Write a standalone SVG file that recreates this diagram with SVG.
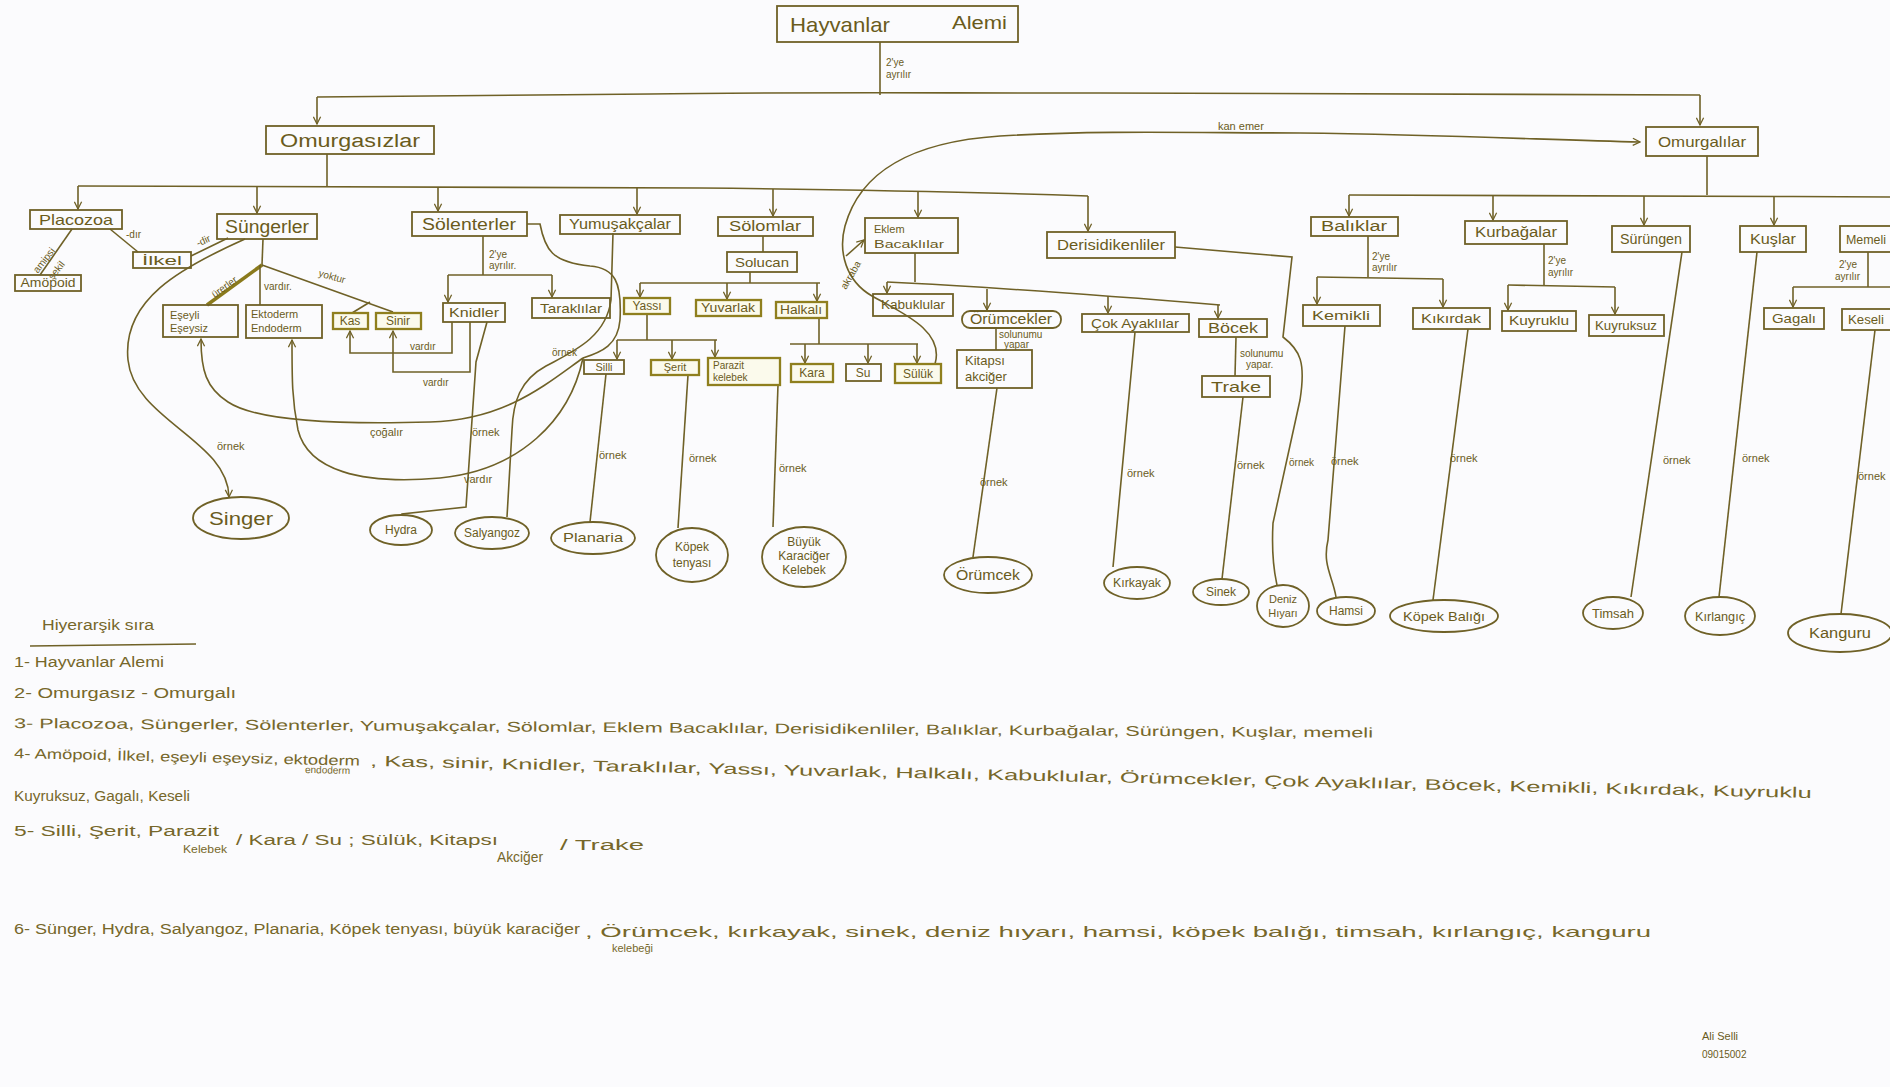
<svg xmlns="http://www.w3.org/2000/svg" width="1890" height="1087" viewBox="0 0 1890 1087">
  <defs>
    <marker id="ah" viewBox="0 0 10 10" refX="9" refY="5" markerWidth="9" markerHeight="9" markerUnits="userSpaceOnUse" orient="auto">
      <path d="M1,1 L9,5 L1,9" fill="none" stroke="#6f6127" stroke-width="1.4"/>
    </marker>
  </defs>
  <style>
    .box{fill:none;stroke:#6f6127;stroke-width:1.8}
    .hl{fill:#fbfaec;stroke:#8f7f1e;stroke-width:2.3}
    .ov{fill:none;stroke:#6f6127;stroke-width:1.8}
    .ln{fill:none;stroke:#6f6127;stroke-width:1.6}
    .ar{fill:none;stroke:#6f6127;stroke-width:1.6;marker-end:url(#ah)}
    .thick{fill:none;stroke:#8a7a1c;stroke-width:3.6}
    text{font-family:"Liberation Sans",Arial,sans-serif;fill:#6a5b1c}
    .t{font-size:13px;text-anchor:middle}
    .ts{font-size:11px}
    .lb{font-size:10px}
    .li{font-size:14px;fill:#76672a}
    .lw{font-size:15px;fill:#76672a}
  </style>
  <rect width="1890" height="1087" fill="#fbfbfd"/>

  <!-- connectors -->
  <g id="connectors">
    <!-- kingdom split -->
    <path class="ln" d="M880,42 L880,95"/>
    <path class="ln" d="M317,97 C450,96 560,95 650,94 C760,92 900,93 1100,93 C1400,94 1600,95 1700,95"/>
    <path class="ar" d="M317,97 L317,124"/>
    <path class="ar" d="M1700,95 L1700,125"/>

    <!-- invertebrate phyla -->
    <path class="ln" d="M327,154 L327,186"/>
    <path class="ln" d="M78,186 C300,186 500,186 700,188 C900,190 1000,193 1088,196"/>
    <path class="ar" d="M78,186 L78,209"/>
    <path class="ar" d="M257,186 L257,213"/>
    <path class="ar" d="M438,187 L438,211"/>
    <path class="ar" d="M637,188 L637,214"/>
    <path class="ar" d="M773,189 L773,216"/>
    <path class="ar" d="M918,192 L918,217"/>
    <path class="ar" d="M1088,196 L1088,231"/>

    <!-- vertebrate classes -->
    <path class="ln" d="M1707,156 L1707,195"/>
    <path class="ln" d="M1349,195 C1500,195 1700,196 1890,197"/>
    <path class="ar" d="M1349,195 L1349,216"/>
    <path class="ar" d="M1493,195 L1493,220"/>
    <path class="ar" d="M1644,196 L1644,225"/>
    <path class="ar" d="M1774,196 L1774,225"/>

    <!-- Placozoa -->
    <path class="ln" d="M72,229 L40,275"/>
    <path class="ln" d="M110,229 L138,252"/>
    <path class="ln" d="M228,238 L191,256"/>

    <!-- Süngerler -->
    <path class="ln" d="M263,239 L262,265"/>
    <path class="thick" d="M262,265 L207,305"/>
    <path class="ln" d="M260,265 L260,305"/>
    <path class="ln" d="M262,265 L393,312"/>
    <path class="ln" d="M370,302 L352,313"/>
    <path class="ar" d="M245,239 C180,268 122,300 128,360 C134,420 228,440 229,497"/>

    <!-- Sölenterler branches and return curves -->
    <path class="ln" d="M483,236 L483,275"/>
    <path class="ln" d="M448,275 L552,275"/>
    <path class="ar" d="M448,275 L448,302"/>
    <path class="ar" d="M552,275 L552,297"/>
    <path class="ln" d="M527,224 L540,224 C545,250 552,262 590,266 C615,268 622,282 620,320 C618,345 602,352 583,358"/>
    <path class="ar" d="M583,358 C545,385 505,420 430,422 C330,425 255,420 228,402 C206,388 201,370 201,339"/>
    <path class="ar" d="M583,358 C570,420 520,470 440,478 C360,485 308,470 298,430 C292,400 292,380 292,340"/>

    <!-- Knidler -->
    <path class="ar" d="M452,322 L452,353 L350,353 L350,331"/>
    <path class="ar" d="M470,322 L470,372 L393,372 L393,331"/>
    <path class="ln" d="M487,322 L476,362 L466,507 L402,514 L402,516"/>

    <!-- Yumuşakçalar -->
    <path class="ln" d="M613,233 L611,300 C606,338 572,352 546,366 C520,380 513,402 512,430 L507,517"/>

    <!-- Sölomlar -->
    <path class="ln" d="M763,236 L763,252"/>
    <path class="ln" d="M750,272 L750,283"/>
    <path class="ln" d="M640,283 L820,283"/>
    <path class="ar" d="M640,283 L640,297"/>
    <path class="ar" d="M727,283 L727,299"/>
    <path class="ar" d="M817,283 L817,301"/>

    <!-- Yassı -->
    <path class="ln" d="M647,314 L647,340"/>
    <path class="ln" d="M617,340 L717,340"/>
    <path class="ar" d="M617,340 L617,359"/>
    <path class="ar" d="M672,340 L672,359"/>
    <path class="ar" d="M715,340 L715,357"/>

    <!-- Halkalı -->
    <path class="ln" d="M819,318 L819,344"/>
    <path class="ln" d="M790,344 L918,344"/>
    <path class="ar" d="M805,344 L805,363"/>
    <path class="ar" d="M868,344 L868,363"/>
    <path class="ar" d="M917,344 L917,363"/>

    <!-- Sülük : kan emer -->
    <path class="ar" d="M935,364 C945,330 900,312 872,296 C846,281 838,252 845,226 C860,172 910,142 1000,136 C1100,130 1200,133 1300,133 C1450,135 1550,140 1640,142"/>
    <path class="ar" d="M846,256 L864,240"/>

    <!-- Eklem Bacaklılar -->
    <path class="ln" d="M915,253 L915,282"/>
    <path class="ln" d="M887,282 C950,285 1050,291 1220,305"/>
    <path class="ar" d="M887,282 L887,293"/>
    <path class="ar" d="M987,289 L987,310"/>
    <path class="ar" d="M1108,296 L1108,313"/>
    <path class="ar" d="M1218,305 L1218,318"/>
    <path class="ln" d="M996,328 L996,350"/>
    <path class="ln" d="M1236,337 L1235,376"/>

    <!-- examples -->
    <path class="ln" d="M606,374 L590,522"/>
    <path class="ln" d="M688,375 L678,528"/>
    <path class="ln" d="M778,385 L773,527"/>
    <path class="ln" d="M997,388 L973,557"/>
    <path class="ln" d="M1135,332 L1113,567"/>
    <path class="ln" d="M1243,397 L1222,579"/>
    <path class="ln" d="M1175,247 L1292,257 L1283,337 C1300,350 1306,362 1300,400 L1273,523 C1271,560 1275,575 1277,585"/>
    <path class="ln" d="M1345,326 L1328,540 C1322,565 1333,577 1336,597"/>
    <path class="ln" d="M1468,329 L1433,600"/>
    <path class="ln" d="M1682,252 L1631,597"/>
    <path class="ln" d="M1757,252 L1719,597"/>
    <path class="ln" d="M1875,330 L1841,614"/>

    <!-- vertebrate sub-branches -->
    <path class="ln" d="M1368,236 L1368,277"/>
    <path class="ln" d="M1317,277 L1443,279"/>
    <path class="ar" d="M1317,277 L1317,304"/>
    <path class="ar" d="M1443,279 L1443,307"/>
    <path class="ln" d="M1544,244 L1544,286"/>
    <path class="ln" d="M1508,285 L1615,287"/>
    <path class="ar" d="M1508,285 L1508,310"/>
    <path class="ar" d="M1615,287 L1615,314"/>
    <path class="ln" d="M1868,252 L1868,287"/>
    <path class="ln" d="M1793,287 L1890,287"/>
    <path class="ar" d="M1793,287 L1793,307"/>

    <!-- connector labels -->
    <text class="lb" x="886" y="66">2'ye</text>
    <text class="lb" x="886" y="78">ayrılır</text>
    <text class="lb" transform="rotate(-52 52 262)" x="34" y="258">amipsi</text>
    <text class="lb" transform="rotate(-52 60 268)" x="46" y="270">şekil</text>
    <text class="lb" x="126" y="238">-dır</text>
    <text class="lb" transform="rotate(-25 200 246)" x="198" y="246">-dir</text>
    <text class="lb" transform="rotate(-36 226 290)" x="212" y="290">ürerler</text>
    <text class="lb" x="264" y="290">vardır.</text>
    <text class="lb" transform="rotate(16 318 276)" x="318" y="276">yoktur</text>
    <text class="ts" x="217" y="450">örnek</text>
    <text class="lb" x="489" y="258">2'ye</text>
    <text class="lb" x="489" y="269">ayrılır.</text>
    <text class="lb" x="410" y="350">vardır</text>
    <text class="lb" x="423" y="386">vardır</text>
    <text class="ts" x="472" y="436">örnek</text>
    <text class="ts" x="464" y="483">vardır</text>
    <text class="ts" x="370" y="436">çoğalır</text>
    <text class="lb" x="552" y="356">örnek</text>
    <text class="ts" x="599" y="459">örnek</text>
    <text class="ts" x="689" y="462">örnek</text>
    <text class="ts" x="779" y="472">örnek</text>
    <text class="ts" x="1218" y="130">kan  emer</text>
    <text class="lb" transform="rotate(-60 846 290)" x="846" y="290">akraba</text>
    <text class="lb" x="999" y="338">solunumu</text>
    <text class="lb" x="1004" y="348">yapar</text>
    <text class="lb" x="1240" y="357">solunumu</text>
    <text class="lb" x="1246" y="368">yapar.</text>
    <text class="ts" x="980" y="486">örnek</text>
    <text class="ts" x="1127" y="477">örnek</text>
    <text class="ts" x="1237" y="469">örnek</text>
    <text class="lb" x="1289" y="466">örnek</text>
    <text class="ts" x="1331" y="465">örnek</text>
    <text class="ts" x="1450" y="462">örnek</text>
    <text class="ts" x="1663" y="464">örnek</text>
    <text class="ts" x="1742" y="462">örnek</text>
    <text class="ts" x="1858" y="480">örnek</text>
    <text class="lb" x="1372" y="260">2'ye</text>
    <text class="lb" x="1372" y="271">ayrılır</text>
    <text class="lb" x="1548" y="264">2'ye</text>
    <text class="lb" x="1548" y="276">ayrılır</text>
    <text class="lb" x="1839" y="268">2'ye</text>
    <text class="lb" x="1835" y="280">ayrılır</text>
  </g>

  <!-- top levels -->
  <g id="hayvanlar-alemi"><rect class="box" x="777" y="6" width="241" height="36"/><text x="790" y="32" style="font-size:21px" textLength="100" lengthAdjust="spacingAndGlyphs">Hayvanlar</text><text x="952" y="29" style="font-size:18px" textLength="55" lengthAdjust="spacingAndGlyphs">Alemi</text></g>
  <g id="omurgasizlar"><rect class="box" x="266" y="126" width="168" height="28"/><text class="t" x="350" y="147" style="font-size:18px" textLength="140" lengthAdjust="spacingAndGlyphs">Omurgasızlar</text></g>
  <g id="omurgalilar"><rect class="box" x="1646" y="127" width="112" height="29"/><text class="t" x="1702" y="147" style="font-size:15px" textLength="88" lengthAdjust="spacingAndGlyphs">Omurgalılar</text></g>

  <!-- invertebrate phyla -->
  <g id="placozoa"><rect class="box" x="30" y="210" width="92" height="19"/><text class="t" x="76" y="225" style="font-size:15px" textLength="74" lengthAdjust="spacingAndGlyphs">Placozoa</text></g>
  <g id="sungerler"><rect class="box" x="217" y="214" width="100" height="25"/><text class="t" x="267" y="233" style="font-size:18px" textLength="84" lengthAdjust="spacingAndGlyphs">Süngerler</text></g>
  <g id="solenterler"><rect class="box" x="412" y="212" width="115" height="24"/><text class="t" x="469" y="230" style="font-size:16px" textLength="94" lengthAdjust="spacingAndGlyphs">Sölenterler</text></g>
  <g id="yumusakcalar"><rect class="box" x="560" y="215" width="120" height="19"/><text class="t" x="620" y="229" style="font-size:14px" textLength="102" lengthAdjust="spacingAndGlyphs">Yumuşakçalar</text></g>
  <g id="solomlar"><rect class="box" x="718" y="217" width="95" height="19"/><text class="t" x="765" y="231" style="font-size:14px" textLength="72" lengthAdjust="spacingAndGlyphs">Sölomlar</text></g>
  <g id="eklem-bacaklilar"><rect class="box" x="865" y="218" width="93" height="35"/><text class="ts" x="874" y="233">Eklem</text><text class="ts" x="874" y="248" textLength="70" lengthAdjust="spacingAndGlyphs">Bacaklılar</text></g>
  <g id="derisidikenliler"><rect class="box" x="1047" y="232" width="128" height="26"/><text class="t" x="1111" y="250" style="font-size:14px" textLength="108" lengthAdjust="spacingAndGlyphs">Derisidikenliler</text></g>

  <!-- vertebrate classes -->
  <g id="baliklar"><rect class="box" x="1311" y="217" width="87" height="19"/><text class="t" x="1354" y="231" style="font-size:14px" textLength="66" lengthAdjust="spacingAndGlyphs">Balıklar</text></g>
  <g id="kurbagalar"><rect class="box" x="1465" y="221" width="102" height="23"/><text class="t" x="1516" y="237" style="font-size:14px" textLength="82" lengthAdjust="spacingAndGlyphs">Kurbağalar</text></g>
  <g id="surungen"><rect class="box" x="1612" y="226" width="78" height="26"/><text class="t" x="1651" y="244" style="font-size:15px" textLength="62" lengthAdjust="spacingAndGlyphs">Sürüngen</text></g>
  <g id="kuslar"><rect class="box" x="1740" y="226" width="66" height="26"/><text class="t" x="1773" y="244" style="font-size:15px" textLength="46" lengthAdjust="spacingAndGlyphs">Kuşlar</text></g>
  <g id="memeli"><rect class="box" x="1840" y="226" width="80" height="26"/><text x="1846" y="244" style="font-size:12px" textLength="40" lengthAdjust="spacingAndGlyphs">Memeli</text></g>

  <!-- sub-groups -->
  <g id="amopoid"><rect class="box" x="15" y="275" width="66" height="16"/><text class="t" x="48" y="287" style="font-size:12px" textLength="55" lengthAdjust="spacingAndGlyphs">Amöpoid</text></g>
  <g id="ilkel"><rect class="box" x="133" y="252" width="58" height="16"/><text class="t" x="162" y="265" style="font-size:13px" textLength="40" lengthAdjust="spacingAndGlyphs">İlkel</text></g>
  <g id="eseyli-eseysiz"><rect class="box" x="163" y="305" width="75" height="32"/><text class="ts" x="170" y="319">Eşeyli</text><text class="ts" x="170" y="332">Eşeysiz</text></g>
  <g id="ektoderm-endoderm"><rect class="box" x="246" y="305" width="76" height="33"/><text class="ts" x="251" y="318">Ektoderm</text><text class="ts" x="251" y="332">Endoderm</text></g>
  <g id="kas"><rect class="hl" x="333" y="313" width="35" height="16"/><text class="t" x="350" y="325" style="font-size:12px">Kas</text></g>
  <g id="sinir"><rect class="hl" x="376" y="313" width="45" height="16"/><text class="t" x="398" y="325" style="font-size:12px">Sinir</text></g>
  <g id="knidler"><rect class="box" x="443" y="303" width="62" height="19"/><text class="t" x="474" y="317" style="font-size:13px" textLength="50" lengthAdjust="spacingAndGlyphs">Knidler</text></g>
  <g id="taraklilar"><rect class="box" x="532" y="298" width="78" height="20"/><text class="t" x="571" y="313" style="font-size:13px" textLength="62" lengthAdjust="spacingAndGlyphs">Taraklılar</text></g>
  <g id="solucan"><rect class="box" x="727" y="252" width="70" height="20"/><text class="t" x="762" y="267" style="font-size:13px" textLength="54" lengthAdjust="spacingAndGlyphs">Solucan</text></g>
  <g id="yassi"><rect class="hl" x="624" y="298" width="46" height="16"/><text class="t" x="647" y="310" style="font-size:12px">Yassı</text></g>
  <g id="yuvarlak"><rect class="hl" x="696" y="300" width="65" height="16"/><text class="t" x="728" y="312" style="font-size:12px" textLength="54" lengthAdjust="spacingAndGlyphs">Yuvarlak</text></g>
  <g id="halkali"><rect class="hl" x="776" y="302" width="51" height="16"/><text class="t" x="801" y="314" style="font-size:12px" textLength="42" lengthAdjust="spacingAndGlyphs">Halkalı</text></g>
  <g id="silli"><rect class="box" x="584" y="360" width="40" height="14"/><text class="t" x="604" y="371" style="font-size:11px">Silli</text></g>
  <g id="serit"><rect class="hl" x="651" y="360" width="48" height="15"/><text class="t" x="675" y="371" style="font-size:11px">Şerit</text></g>
  <g id="parazit-kelebek"><rect class="hl" x="708" y="358" width="72" height="27"/><text class="lb" x="713" y="369">Parazit</text><text class="lb" x="713" y="381">kelebek</text></g>
  <g id="kara"><rect class="hl" x="791" y="364" width="42" height="18"/><text class="t" x="812" y="377" style="font-size:12px">Kara</text></g>
  <g id="su"><rect class="box" x="846" y="364" width="35" height="17"/><text class="t" x="863" y="377" style="font-size:12px">Su</text></g>
  <g id="suluk"><rect class="hl" x="895" y="364" width="46" height="19"/><text class="t" x="918" y="378" style="font-size:12px">Sülük</text></g>
  <g id="kabuklular"><rect class="box" x="873" y="294" width="80" height="22"/><text class="t" x="913" y="309" style="font-size:12px" textLength="64" lengthAdjust="spacingAndGlyphs">Kabuklular</text></g>
  <g id="orumcekler"><rect class="box" x="962" y="311" width="99" height="17" rx="8"/><text class="t" x="1011" y="324" style="font-size:14px" textLength="82" lengthAdjust="spacingAndGlyphs">Örümcekler</text></g>
  <g id="cok-ayaklilar"><rect class="box" x="1082" y="314" width="107" height="18"/><text class="t" x="1135" y="328" style="font-size:13px" textLength="88" lengthAdjust="spacingAndGlyphs">Çok Ayaklılar</text></g>
  <g id="bocek"><rect class="box" x="1199" y="319" width="68" height="18"/><text class="t" x="1233" y="333" style="font-size:14px" textLength="50" lengthAdjust="spacingAndGlyphs">Böcek</text></g>
  <g id="kitapsi-akciger"><rect class="box" x="957" y="350" width="75" height="38"/><text x="965" y="365" style="font-size:13px">Kitapsı</text><text x="965" y="381" style="font-size:13px">akciğer</text></g>
  <g id="trake"><rect class="box" x="1202" y="376" width="68" height="21"/><text class="t" x="1236" y="392" style="font-size:15px" textLength="50" lengthAdjust="spacingAndGlyphs">Trake</text></g>
  <g id="kemikli"><rect class="box" x="1303" y="305" width="77" height="21"/><text class="t" x="1341" y="320" style="font-size:13px" textLength="58" lengthAdjust="spacingAndGlyphs">Kemikli</text></g>
  <g id="kikirdak"><rect class="box" x="1413" y="308" width="77" height="21"/><text class="t" x="1451" y="323" style="font-size:13px" textLength="60" lengthAdjust="spacingAndGlyphs">Kıkırdak</text></g>
  <g id="kuyruklu"><rect class="box" x="1502" y="311" width="74" height="20"/><text class="t" x="1539" y="325" style="font-size:13px" textLength="60" lengthAdjust="spacingAndGlyphs">Kuyruklu</text></g>
  <g id="kuyruksuz"><rect class="box" x="1589" y="315" width="75" height="21"/><text class="t" x="1626" y="330" style="font-size:13px" textLength="62" lengthAdjust="spacingAndGlyphs">Kuyruksuz</text></g>
  <g id="gagali"><rect class="box" x="1764" y="308" width="60" height="21"/><text class="t" x="1794" y="323" style="font-size:13px" textLength="44" lengthAdjust="spacingAndGlyphs">Gagalı</text></g>
  <g id="keseli"><rect class="box" x="1842" y="309" width="70" height="21"/><text x="1848" y="324" style="font-size:12px" textLength="36" lengthAdjust="spacingAndGlyphs">Keseli</text></g>

  <!-- example species -->
  <g id="singer"><ellipse class="ov" cx="241" cy="518" rx="48" ry="21"/><text class="t" x="241" y="525" style="font-size:19px" textLength="64" lengthAdjust="spacingAndGlyphs">Singer</text></g>
  <g id="hydra"><ellipse class="ov" cx="401" cy="530" rx="31" ry="15"/><text class="t" x="401" y="534" style="font-size:12px">Hydra</text></g>
  <g id="salyangoz"><ellipse class="ov" cx="492" cy="533" rx="37" ry="16"/><text class="t" x="492" y="537" style="font-size:12px" textLength="56" lengthAdjust="spacingAndGlyphs">Salyangoz</text></g>
  <g id="planaria"><ellipse class="ov" cx="593" cy="538" rx="42" ry="16"/><text class="t" x="593" y="542" style="font-size:13px" textLength="60" lengthAdjust="spacingAndGlyphs">Planaria</text></g>
  <g id="kopek-tenyasi"><ellipse class="ov" cx="692" cy="555" rx="36" ry="27"/><text class="t" x="692" y="551" style="font-size:12px">Köpek</text><text class="t" x="692" y="567" style="font-size:12px">tenyası</text></g>
  <g id="buyuk-karaciger-kelebegi"><ellipse class="ov" cx="804" cy="557" rx="42" ry="30"/><text class="t" x="804" y="546" style="font-size:12px">Büyük</text><text class="t" x="804" y="560" style="font-size:12px">Karaciğer</text><text class="t" x="804" y="574" style="font-size:12px">Kelebek</text></g>
  <g id="orumcek"><ellipse class="ov" cx="988" cy="575" rx="44" ry="18"/><text class="t" x="988" y="580" style="font-size:14px" textLength="64" lengthAdjust="spacingAndGlyphs">Örümcek</text></g>
  <g id="kirkayak"><ellipse class="ov" cx="1137" cy="583" rx="33" ry="16"/><text class="t" x="1137" y="587" style="font-size:12px" textLength="48" lengthAdjust="spacingAndGlyphs">Kırkayak</text></g>
  <g id="sinek"><ellipse class="ov" cx="1221" cy="592" rx="28" ry="13"/><text class="t" x="1221" y="596" style="font-size:12px">Sinek</text></g>
  <g id="deniz-hiyari"><ellipse class="ov" cx="1283" cy="606" rx="26" ry="21"/><text class="t" x="1283" y="603" style="font-size:11px">Deniz</text><text class="t" x="1283" y="617" style="font-size:11px">Hıyarı</text></g>
  <g id="hamsi"><ellipse class="ov" cx="1346" cy="611" rx="29" ry="14"/><text class="t" x="1346" y="615" style="font-size:12px">Hamsi</text></g>
  <g id="kopek-baligi"><ellipse class="ov" cx="1444" cy="616" rx="54" ry="16"/><text class="t" x="1444" y="621" style="font-size:13px" textLength="82" lengthAdjust="spacingAndGlyphs">Köpek Balığı</text></g>
  <g id="timsah"><ellipse class="ov" cx="1613" cy="613" rx="30" ry="16"/><text class="t" x="1613" y="618" style="font-size:13px">Timsah</text></g>
  <g id="kirlangic"><ellipse class="ov" cx="1720" cy="616" rx="35" ry="19"/><text class="t" x="1720" y="621" style="font-size:12px" textLength="50" lengthAdjust="spacingAndGlyphs">Kırlangıç</text></g>
  <g id="kanguru"><ellipse class="ov" cx="1840" cy="633" rx="52" ry="19"/><text class="t" x="1840" y="638" style="font-size:14px" textLength="62" lengthAdjust="spacingAndGlyphs">Kanguru</text></g>

  <!-- hierarchy list -->
  <g id="hiyerarsik-sira">
    <text class="li" x="42" y="630" textLength="112" lengthAdjust="spacingAndGlyphs">Hiyerarşik sıra</text>
    <path class="ln" d="M30,646 L196,644"/>
    <text class="li" x="14" y="667" textLength="150" lengthAdjust="spacingAndGlyphs">1- Hayvanlar Alemi</text>
    <text class="li" x="14" y="698" textLength="222" lengthAdjust="spacingAndGlyphs">2- Omurgasız - Omurgalı</text>
    <text class="li" x="14" y="728" textLength="1359" lengthAdjust="spacingAndGlyphs" transform="rotate(0.4 14 728)">3- Placozoa, Süngerler, Sölenterler, Yumuşakçalar, Sölomlar, Eklem Bacaklılar, Derisidikenliler, Balıklar, Kurbağalar, Sürüngen, Kuşlar, memeli</text>
    <text class="li" x="14" y="758" textLength="346" lengthAdjust="spacingAndGlyphs" transform="rotate(1.27 14 758)">4- Amöpoid, İlkel, eşeyli eşeysiz, ektoderm</text>
    <text class="lb" x="305" y="773" transform="rotate(1.27 305 773)" style="fill:#76672a">endoderm</text>
    <text class="lw" x="370" y="766" textLength="1442" lengthAdjust="spacingAndGlyphs" transform="rotate(1.27 370 766)">, Kas, sinir, Knidler, Taraklılar, Yassı, Yuvarlak, Halkalı, Kabuklular, Örümcekler, Çok Ayaklılar, Böcek, Kemikli, Kıkırdak, Kuyruklu</text>
    <text class="li" x="14" y="801" textLength="176" lengthAdjust="spacingAndGlyphs">Kuyruksuz, Gagalı, Keseli</text>
    <text class="li" x="14" y="836" textLength="205" lengthAdjust="spacingAndGlyphs">5- Silli, Şerit, Parazit</text>
    <text class="ts" x="183" y="853" textLength="44" lengthAdjust="spacingAndGlyphs" style="fill:#76672a">Kelebek</text>
    <text class="li" x="236" y="845" textLength="262" lengthAdjust="spacingAndGlyphs">/ Kara / Su ; Sülük, Kitapsı</text>
    <text class="li" x="497" y="862" textLength="46" lengthAdjust="spacingAndGlyphs">Akciğer</text>
    <text class="li" x="560" y="850" textLength="84" lengthAdjust="spacingAndGlyphs">/ Trake</text>
    <text class="li" x="14" y="934" textLength="566" lengthAdjust="spacingAndGlyphs">6- Sünger, Hydra, Salyangoz, Planaria, Köpek tenyası, büyük karaciğer</text>
    <text class="ts" x="612" y="952" style="fill:#76672a">kelebeği</text>
    <text class="lw" x="585" y="937" textLength="1066" lengthAdjust="spacingAndGlyphs">, Örümcek, kırkayak, sinek, deniz hıyarı, hamsi, köpek balığı, timsah, kırlangıç, kanguru</text>
  </g>

  <g id="imza">
    <text class="ts" x="1702" y="1040">Ali    Selli</text>
    <text class="lb" x="1702" y="1058">09015002</text>
  </g>
</svg>
